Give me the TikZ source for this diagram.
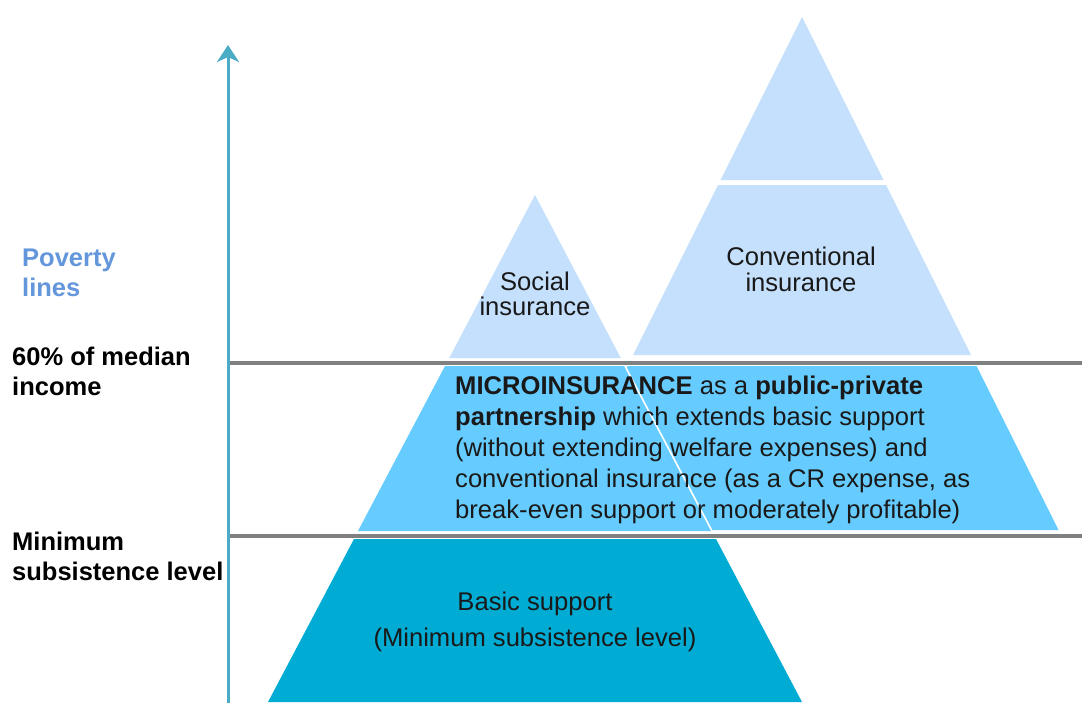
\documentclass[tikz,border=0pt]{standalone}
\usepackage{fontspec}
\setmainfont{Liberation Sans}
\usetikzlibrary{arrows.meta}
\definecolor{capblue}{RGB}{197,224,252}
\definecolor{microblue}{RGB}{102,204,255}
\definecolor{basicblue}{RGB}{0,172,212}
\definecolor{axisteal}{RGB}{75,172,198}
\definecolor{lvlgray}{RGB}{128,128,128}
\definecolor{povblue}{RGB}{100,150,220}
\definecolor{txtdark}{RGB}{25,25,25}
\begin{document}
\begin{tikzpicture}[x=1pt,y=-1pt,
  txt/.style={inner sep=0pt, text=txtdark, font=\fontsize{25.6}{30}\selectfont},
  lbl/.style={inner sep=0pt, text=black, font=\fontsize{25.5}{30}\selectfont\bfseries, anchor=base west},
  level/.style={draw=lvlgray, line width=4pt},
  axisline/.style={draw=axisteal, line width=3pt, -{Stealth[length=17pt,width=22pt,inset=5pt]}},
  gapline/.style={draw=white, line width=1.6pt}]
\useasboundingbox[fill=white] (0,0) rectangle (1082,702);

% right pyramid (conventional)
\fill[capblue] (802,17) -- (883.5,180) -- (720.5,180) -- cycle;
\fill[capblue] (718,185) -- (886,185) -- (971,355) -- (633,355) -- cycle;
\fill[microblue] (627.5,366) -- (976.5,366) -- (1058.5,530) -- (545.5,530) -- cycle;

% left pyramid
\fill[capblue] (535,195) -- (620.8,358) -- (449.2,358) -- cycle;
\fill[microblue] (445,366) -- (625,366) -- (712,531) -- (358,531) -- cycle;
\coordinate (g1) at (625,366);
\coordinate (g2) at (712,531);
\draw[gapline] (g1) -- (g2);
\fill[basicblue] (354,539) -- (716,539) -- (802,702) -- (268,702) -- cycle;

% level lines
\coordinate (l1a) at (228,362.5);
\coordinate (l1b) at (1082,362.5);
\coordinate (l2a) at (228,536);
\coordinate (l2b) at (1082,536);
\draw[level] (l1a) -- (l1b);
\draw[level] (l2a) -- (l2b);

% axis
\coordinate (axb) at (228,703);
\coordinate (axt) at (228,45);
\draw[axisline] (axb) -- (axt);

% left labels
\node[lbl, text=povblue] (pov1) at (22,266) {Poverty};
\node[lbl, text=povblue] (pov2) at (22,296) {lines};
\node[lbl] (med1) at (12,365) {60\% of median};
\node[lbl] (med2) at (12,395) {income};
\node[lbl] (min1) at (12,550) {Minimum};
\node[lbl] (min2) at (12,580) {subsistence level};

% pyramid texts
\node[txt, anchor=base] (soc1) at (535,290) {Social};
\node[txt, anchor=base] (soc2) at (535,315) {insurance};
\node[txt, anchor=base] (conv1) at (801,265) {Conventional};
\node[txt, anchor=base] (conv2) at (801,291) {insurance};

\node[txt, anchor=base west] (mi1) at (455,394) {\textbf{MICROINSURANCE} as a \textbf{public-private}};
\node[txt, anchor=base west] (mi2) at (455,425) {\textbf{partnership} which extends basic support};
\node[txt, anchor=base west] (mi3) at (455,456) {(without extending welfare expenses) and};
\node[txt, anchor=base west] (mi4) at (455,487) {conventional insurance (as a CR expense, as};
\node[txt, anchor=base west] (mi5) at (455,518) {break-even support or moderately profitable)};

\node[txt, anchor=base] (bas1) at (535,610) {Basic support};
\node[txt, anchor=base] (bas2) at (535,646) {(Minimum subsistence level)};
\end{tikzpicture}
\end{document}
